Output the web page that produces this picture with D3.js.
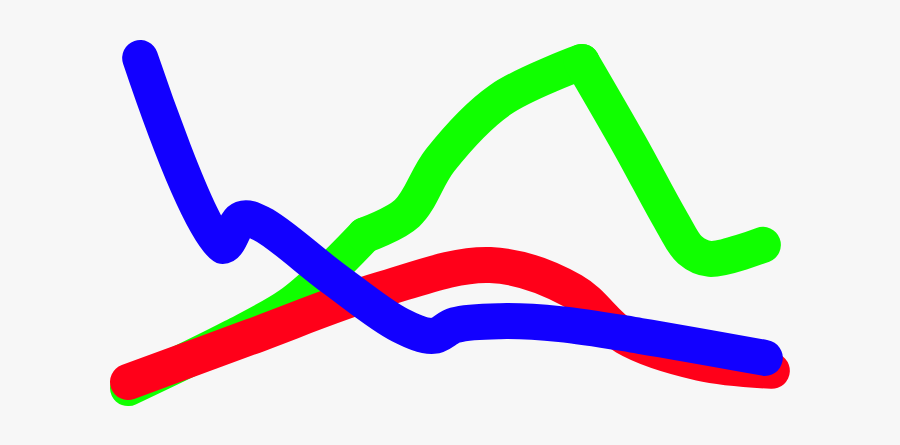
<!DOCTYPE html>
<html>
<head>
<meta charset="utf-8">
<script src="https://cdn.jsdelivr.net/npm/d3@7"></script>
<style>
  html, body { margin: 0; padding: 0; background: #f7f7f7; }
</style>
</head>
<body>
<div id="vis"></div>
<script>
// values, in chart units (x 0..100, y 0..100)
const greenX = [0, 16.4, 25.3, 31.6, 37.0, 43.6, 48.8, 58.1, 70.9, 78.4, 85.0, 87.8, 90.9, 99.2];
const greenY = [3.3, 17.5, 26.4, 36.1, 45.8, 51.9, 66.7, 83.3, 93.9, 70.8, 49.4, 41.7, 39.2, 43.1];
const greenCorners = [4, 8];

const redX = [0, 19.1, 39.4, 56.6, 69.5, 77.7, 89.4, 100.6];
const redY = [5, 17.5, 30.6, 37.5, 30.3, 17.5, 10.3, 8.1];

const blueX = [1.9, 14.7, 17.8, 20.9, 32, 42.5, 47.7, 51.1, 58.1, 67.5, 80, 99.5];
const blueY = [95, 42.8, 50.3, 48.9, 33.9, 20.8, 17.8, 20.8, 21.9, 21.1, 17.8, 11.7];

const width = 900, height = 445;

const svg = d3.select("#vis").append("svg")
    .attr("width", width)
    .attr("height", height)
    .style("display", "block")
    .style("background", "#f7f7f7");

const x = d3.scaleLinear().domain([0, 100]).range([128, 768]);
const y = d3.scaleLinear().domain([0, 100]).range([400, 40]);

const line = d3.line()
    .x(d => x(d[0]))
    .y(d => y(d[1]))
    .curve(d3.curveCatmullRom);

// split a series at its sharp corners so each piece is smoothed on its own
function pieces(pts, corners) {
    const out = [];
    let start = 0;
    corners.forEach(c => {
        out.push(pts.slice(start, c + 1));
        start = c;
    });
    out.push(pts.slice(start));
    return out;
}

const series = [
    { xs: greenX, ys: greenY, corners: greenCorners, color: "#10ff00" },
    { xs: redX, ys: redY, corners: [], color: "#ff0019" },
    { xs: blueX, ys: blueY, corners: [], color: "#1200ff" }
];

series.forEach(s => {
    const g = svg.append("g");
    g.selectAll("path")
        .data(pieces(d3.zip(s.xs, s.ys), s.corners))
        .join("path")
        .attr("d", line)
        .attr("fill", "none")
        .attr("stroke", s.color)
        .attr("stroke-width", 36)
        .attr("stroke-linecap", "round")
        .attr("stroke-linejoin", "round");
});
</script>
</body>
</html>
